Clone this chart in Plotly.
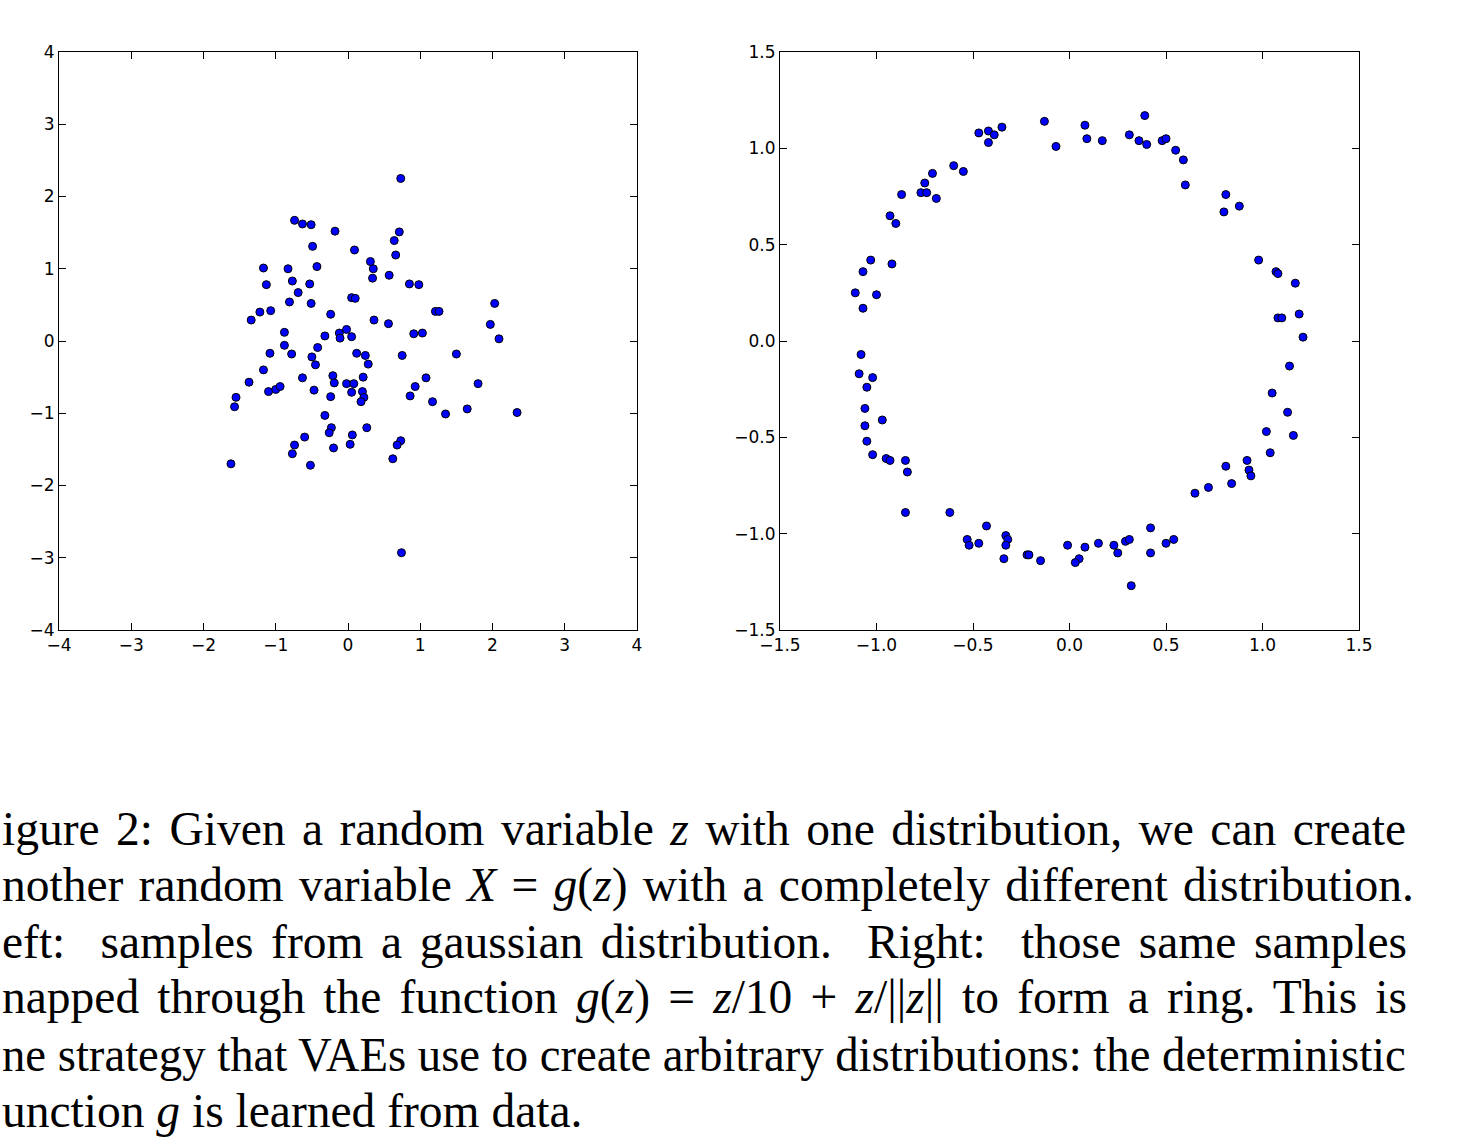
import plotly.graph_objects as go

# ---- data: left panel (gaussian samples z) ----
z_x = [-0.74, -0.63, -0.51, -0.18, -0.49, 0.09, -1.17, -0.83, -0.43, -1.13,
       -0.77, -0.53, -0.69, -0.81, -0.51, 0.05, 0.10, -1.22, -1.07, -1.34,
       -0.24, -0.88, -0.02, -0.12, -0.11, 0.05, -0.32, -0.88, -1.08, -0.78,
       -0.42, -0.50, 0.12, 0.24, 0.73, 0.71, 0.64, 0.66, 0.31, 0.35,
       0.34, 0.57, 0.85, 0.98, 2.03, 1.21, 1.26, 0.36, 0.56, 1.97,
       2.09, 0.91, 1.03, 0.75, 1.50, -0.45, -1.17, -1.37, -1.10, -1.00,
       -0.94, -0.63, -0.47, -1.55, -1.57, -0.21, -0.19, -0.24, -0.02, 0.08,
       0.05, 0.28, 0.21, 0.20, 0.22, 0.18, -0.32, -0.23, -0.26, -0.60,
       -0.74, -0.77, -0.20, 0.06, 0.03, 0.26, -1.62, -0.52, 1.08, 0.93,
       0.86, 1.17, 1.35, 1.65, 1.80, 2.34, 0.73, 0.68, 0.62, 0.74]
z_y = [1.67, 1.62, 1.61, 1.52, 1.31, 1.26, 1.01, 1.00, 1.03, 0.78,
       0.83, 0.79, 0.67, 0.54, 0.52, 0.60, 0.59, 0.40, 0.42, 0.29,
       0.37, 0.12, 0.16, 0.11, 0.04, 0.06, 0.07, -0.06, -0.17, -0.18,
       -0.09, -0.22, -0.17, -0.20, 2.25, 1.51, 1.39, 1.19, 1.10, 1.00,
       0.87, 0.91, 0.79, 0.78, 0.52, 0.41, 0.41, 0.29, 0.24, 0.23,
       0.03, 0.10, 0.11, -0.20, -0.18, -0.33, -0.40, -0.57, -0.70, -0.67,
       -0.63, -0.51, -0.68, -0.78, -0.91, -0.48, -0.58, -0.77, -0.59, -0.59,
       -0.71, -0.32, -0.50, -0.70, -0.78, -0.84, -1.03, -1.20, -1.27, -1.33,
       -1.44, -1.56, -1.48, -1.30, -1.43, -1.20, -1.70, -1.72, -0.51, -0.63,
       -0.76, -0.84, -1.01, -0.94, -0.59, -0.99, -1.38, -1.44, -1.63, -2.93]

# ---- data: right panel (ring samples X = g(z)) ----
ring_x = [-0.13, -0.07, -0.35, -0.42, -0.39, -0.47, -0.42, -0.60, -0.55, -0.71,
          -0.75, -0.77, -0.74, -0.69, -0.87, -0.93, -0.90, -1.03, -0.92, -1.07,
          -1.11, -1.00, -1.07,
          0.08, 0.09, 0.17, 0.39, 0.31, 0.36, 0.40, 0.48, 0.50, 0.55,
          0.59, 0.60, 0.81, 0.88, 0.80, 0.98, 1.07, 1.08, 1.17, 1.08,
          1.10, 1.19, 1.21,
          -1.08, -1.09, -1.02, -1.05, -1.06, -0.97, -1.06, -1.05, -1.02, -0.95,
          -0.93, -0.85, -0.84, -0.85, -0.62, -0.43, -0.53, -0.52, -0.47, -0.33,
          -0.32, -0.33, -0.34, -0.22, -0.21, -0.15, -0.01,
          0.08, 0.05, 0.03, 0.15, 0.23, 0.25, 0.29, 0.31, 0.32, 0.42,
          0.42, 0.50, 0.54, 0.65, 0.72, 0.81, 0.84, 0.92, 0.93, 0.94,
          1.04, 1.02, 1.16, 1.13, 1.05, 1.14]
ring_y = [1.14, 1.01, 1.11, 1.09, 1.07, 1.08, 1.03, 0.91, 0.88, 0.87,
          0.82, 0.77, 0.77, 0.74, 0.76, 0.65, 0.61, 0.42, 0.40, 0.36,
          0.25, 0.24, 0.17,
          1.12, 1.05, 1.04, 1.17, 1.07, 1.04, 1.02, 1.04, 1.05, 0.99,
          0.94, 0.81, 0.76, 0.70, 0.67, 0.42, 0.36, 0.35, 0.30, 0.12,
          0.12, 0.14, 0.02,
          -0.07, -0.17, -0.19, -0.24, -0.35, -0.41, -0.44, -0.52, -0.59, -0.61,
          -0.62, -0.62, -0.68, -0.89, -0.89, -0.96, -1.03, -1.06, -1.05, -1.01,
          -1.03, -1.06, -1.13, -1.11, -1.11, -1.14, -1.06,
          -1.07, -1.13, -1.15, -1.05, -1.06, -1.10, -1.04, -1.03, -1.27, -0.97,
          -1.10, -1.05, -1.03, -0.79, -0.76, -0.65, -0.74, -0.62, -0.67, -0.70,
          -0.58, -0.47, -0.49, -0.37, -0.27, -0.13]

left_ticks = [-4, -3, -2, -1, 0, 1, 2, 3, 4]
right_ticks = [-1.5, -1.0, -0.5, 0.0, 0.5, 1.0, 1.5]

# caption as visible in the (left-cropped) reference
caption_lines = [
    "igure 2: Given a random variable <i>z</i> with one distribution, we can create",
    "nother random variable <i>X</i> = <i>g</i>(<i>z</i>) with a completely different distribution.",
    "eft:  samples from a gaussian distribution.  Right:  those same samples",
    "napped through the function <i>g</i>(<i>z</i>) = <i>z</i>/10 + <i>z</i>/||<i>z</i>|| to form a ring. This is",
    "ne strategy that VAEs use to create arbitrary distributions: the deterministic",
    "unction <i>g</i> is learned from data.",
]

W, H = 1464, 1140

marker = dict(size=8, color="#0000ff", line=dict(color="black", width=1))

fig = go.Figure()
fig.add_trace(go.Scatter(x=z_x, y=z_y, mode="markers", marker=marker,
                         xaxis="x", yaxis="y", showlegend=False, hoverinfo="skip"))
fig.add_trace(go.Scatter(x=ring_x, y=ring_y, mode="markers", marker=marker,
                         xaxis="x2", yaxis="y2", showlegend=False, hoverinfo="skip"))

axis_common = dict(
    showline=True, linecolor="black", linewidth=1, mirror="allticks",
    ticks="inside", ticklen=7, tickwidth=1, tickcolor="black",
    showgrid=False, zeroline=False, automargin=False,
    tickfont=dict(family="DejaVu Sans", size=17, color="black"),
    fixedrange=True,
)

ydom = [1 - 630 / H, 1 - 52 / H]
fig.update_layout(
    width=W, height=H,
    margin=dict(l=0, r=0, t=0, b=0, pad=0),
    paper_bgcolor="white", plot_bgcolor="white",
    xaxis=dict(domain=[59 / W, 637 / W], range=[-4, 4], tickvals=left_ticks,
               anchor="y", **axis_common),
    yaxis=dict(domain=ydom, range=[-4, 4], tickvals=left_ticks,
               anchor="x", **axis_common),
    xaxis2=dict(domain=[780 / W, 1359 / W], range=[-1.5, 1.5], tickvals=right_ticks,
                tickformat=".1f", anchor="y2", **axis_common),
    yaxis2=dict(domain=ydom, range=[-1.5, 1.5], tickvals=right_ticks,
                tickformat=".1f", anchor="x2", **axis_common),
)

first_baseline = 845
line_gap = 56.3
for i, txt in enumerate(caption_lines):
    box_bottom = first_baseline + line_gap * i + 12.3
    fig.add_annotation(
        text=txt, xref="paper", yref="paper",
        x=0, y=1 - box_bottom / H,
        xanchor="left", yanchor="bottom", showarrow=False,
        font=dict(family="Liberation Serif", size=47.5, color="black"),
        align="left",
    )

# justify the first five caption lines (right edges as in the reference);
# word spacing is never made negative: overlong lines are condensed slightly instead
justify_js = """
document.body.style.margin='0';
document.body.style.overflow='hidden';
var gd = document.getElementById('{plot_id}');
var targets = [1406, 1414, 1407, 1407, 1406];
var texts = gd.querySelectorAll('g.annotation text.annotation-text');
for (var i = 0; i < texts.length && i < targets.length; i++) {
  var t = texts[i];
  var bb0 = t.getBBox();
  var r0 = t.getBoundingClientRect();
  var n = (t.textContent.match(/ /g) || []).length;
  if (!n) continue;
  var ws = (targets[i] - r0.right) / n;
  if (ws < 0) { ws = 0; }
  t.style.wordSpacing = ws + 'px';
  var bb1 = t.getBBox();
  var targetW = targets[i] - r0.left;
  var sx = Math.min(1, targetW / bb1.width);
  var tx = bb0.x - sx * bb1.x;
  t.setAttribute('transform', 'translate(' + tx + ',0) scale(' + sx + ',1)');
}
"""

fig.write_html("out.html", config={"displayModeBar": False}, post_script=justify_js)
